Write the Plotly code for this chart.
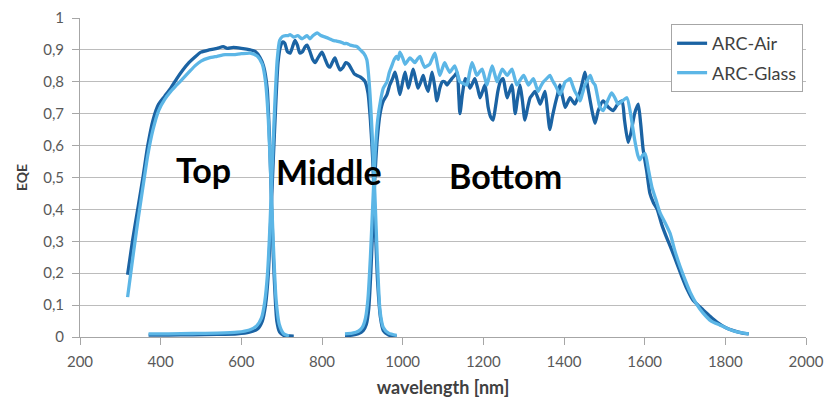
import plotly.graph_objects as go

# ---------------- data ----------------
top_air_wl = [318, 330, 343, 356, 368, 381, 395, 410, 425, 440, 455, 470, 485, 500, 520, 540, 555, 565,
              580, 600, 622, 635, 646, 655, 664, 671, 679, 688, 695, 705, 730]
top_air_eqe = [0.195, 0.30, 0.40, 0.50, 0.60, 0.68, 0.73, 0.755, 0.78, 0.81, 0.837, 0.86, 0.878, 0.893, 0.90,
               0.905, 0.91, 0.905, 0.908, 0.905, 0.90, 0.895, 0.877, 0.85, 0.78, 0.58, 0.26, 0.05, 0.015, 0.005, 0.003]

top_glass_wl = [318, 330, 343, 356, 368, 381, 395, 410, 425, 440, 455, 470, 485, 500, 520, 540, 560, 580,
                600, 622, 640, 652, 660, 667, 673, 679, 686, 694, 705, 718]
top_glass_eqe = [0.125, 0.24, 0.36, 0.47, 0.57, 0.65, 0.71, 0.745, 0.77, 0.79, 0.81, 0.83, 0.85, 0.865, 0.875,
                 0.88, 0.885, 0.885, 0.888, 0.89, 0.88, 0.855, 0.80, 0.68, 0.50, 0.30, 0.12, 0.04, 0.01, 0.003]

mid_air_wl = [370, 420, 480, 540, 590, 620, 640, 652, 660, 667, 673, 679, 685, 691, 697, 703, 708, 714, 721,
              727, 733, 739, 745, 752, 758, 763, 770, 777, 783, 790, 800, 808, 815, 820, 826, 832, 838, 845,
              852, 859, 866, 873, 880, 887, 895, 902, 907, 914, 920, 926, 932, 938, 945, 952, 965, 985]
mid_air_eqe = [0.006, 0.006, 0.007, 0.008, 0.01, 0.015, 0.025, 0.05, 0.10, 0.2, 0.37, 0.55, 0.72, 0.86, 0.91,
               0.925, 0.92, 0.895, 0.89, 0.91, 0.93, 0.915, 0.89, 0.895, 0.91, 0.915, 0.895, 0.87, 0.86, 0.875,
               0.893, 0.87, 0.85, 0.846, 0.862, 0.875, 0.855, 0.837, 0.845, 0.86, 0.855, 0.84, 0.825, 0.82,
               0.815, 0.808, 0.80, 0.765, 0.68, 0.55, 0.35, 0.17, 0.06, 0.02, 0.006, 0.003]

mid_glass_wl = [370, 420, 480, 540, 590, 620, 638, 650, 658, 665, 671, 677, 683, 689, 695, 702, 710, 716, 721,
                730, 740, 750, 757, 763, 770, 778, 788, 797, 808, 818, 827, 835, 845, 855, 862, 870, 880, 887,
                895, 903, 911, 918, 925, 931, 937, 944, 952, 965, 985]
mid_glass_eqe = [0.01, 0.01, 0.011, 0.012, 0.015, 0.022, 0.035, 0.06, 0.11, 0.2, 0.35, 0.55, 0.73, 0.87, 0.93,
                 0.942, 0.945, 0.945, 0.948, 0.94, 0.945, 0.935, 0.94, 0.945, 0.935, 0.945, 0.953, 0.945, 0.94,
                 0.935, 0.93, 0.928, 0.925, 0.92, 0.92, 0.915, 0.912, 0.91, 0.90, 0.89, 0.87, 0.78, 0.62, 0.45,
                 0.25, 0.08, 0.03, 0.012, 0.005]

bot_air_wl = [857, 875, 890, 902, 910, 916, 921, 926, 931, 937, 944, 952, 961, 968, 975, 981, 987, 993, 1000,
              1006, 1014, 1020, 1026, 1032, 1038, 1045, 1051, 1057, 1063, 1068, 1073, 1079, 1085, 1092, 1098,
              1104, 1110, 1116, 1122, 1129, 1135, 1139, 1142, 1148, 1155, 1161, 1167, 1173, 1179, 1186, 1192,
              1198, 1204, 1208, 1212, 1218, 1224, 1230, 1236, 1242, 1249, 1254, 1259, 1265, 1271, 1275, 1279,
              1285, 1291, 1297, 1303, 1310, 1316, 1322, 1328, 1335, 1341, 1347, 1353, 1359, 1365, 1371, 1378,
              1384, 1390, 1397, 1403, 1409, 1415, 1421, 1427, 1434, 1440, 1446, 1452, 1458, 1465, 1471, 1477,
              1485, 1497, 1510, 1522, 1533, 1544, 1550, 1559, 1566, 1575, 1584, 1590, 1596, 1605, 1613, 1622,
              1631, 1643, 1655, 1668, 1680, 1692, 1705, 1720, 1732, 1745, 1762, 1779, 1800, 1820, 1840, 1858]
bot_air_eqe = [0.005, 0.006, 0.01, 0.02, 0.04, 0.09, 0.2, 0.35, 0.5, 0.62, 0.7, 0.74, 0.76, 0.79, 0.81, 0.83,
               0.80, 0.76, 0.80, 0.83, 0.78, 0.81, 0.84, 0.81, 0.78, 0.80, 0.82, 0.79, 0.77, 0.80, 0.83, 0.79,
               0.74, 0.78, 0.80, 0.80, 0.79, 0.80, 0.81, 0.82, 0.83, 0.76, 0.70, 0.76, 0.81, 0.80, 0.78, 0.795,
               0.81, 0.78, 0.75, 0.77, 0.79, 0.76, 0.72, 0.69, 0.68, 0.72, 0.77, 0.80, 0.81, 0.78, 0.75, 0.77,
               0.79, 0.75, 0.70, 0.75, 0.79, 0.74, 0.68, 0.72, 0.75, 0.76, 0.77, 0.75, 0.73, 0.75, 0.77, 0.71,
               0.65, 0.69, 0.73, 0.76, 0.79, 0.75, 0.72, 0.735, 0.75, 0.74, 0.73, 0.75, 0.77, 0.80, 0.83, 0.79,
               0.74, 0.70, 0.67, 0.71, 0.74, 0.72, 0.71, 0.73, 0.74, 0.68, 0.61, 0.64, 0.70, 0.73, 0.67, 0.59,
               0.52, 0.45, 0.42, 0.40, 0.35, 0.31, 0.27, 0.23, 0.19, 0.15, 0.115, 0.10, 0.085, 0.065, 0.047,
               0.03, 0.02, 0.013, 0.01]

bot_glass_wl = [857, 875, 890, 900, 908, 914, 920, 926, 932, 938, 945, 952, 961, 967, 973, 979, 985, 989, 993,
                1000, 1006, 1012, 1018, 1024, 1030, 1036, 1043, 1049, 1055, 1061, 1067, 1074, 1080, 1086, 1092,
                1098, 1104, 1110, 1117, 1123, 1129, 1136, 1142, 1150, 1159, 1166, 1172, 1178, 1184, 1190, 1197,
                1203, 1209, 1215, 1222, 1228, 1234, 1240, 1247, 1253, 1259, 1265, 1271, 1277, 1283, 1291, 1300,
                1306, 1312, 1318, 1324, 1330, 1336, 1342, 1349, 1357, 1365, 1371, 1378, 1384, 1390, 1397, 1403,
                1409, 1415, 1421, 1427, 1434, 1440, 1446, 1452, 1458, 1465, 1471, 1477, 1483, 1489, 1497, 1508,
                1518, 1526, 1534, 1545, 1556, 1565, 1575, 1583, 1588, 1595, 1601, 1610, 1618, 1628, 1638, 1650,
                1663, 1675, 1688, 1700, 1713, 1728, 1745, 1765, 1787, 1808, 1829, 1845, 1858]
bot_glass_eqe = [0.01, 0.012, 0.018, 0.03, 0.06, 0.12, 0.25, 0.42, 0.58, 0.68, 0.74, 0.78, 0.80, 0.83, 0.85,
                 0.87, 0.88, 0.87, 0.893, 0.875, 0.855, 0.865, 0.875, 0.868, 0.86, 0.87, 0.88, 0.86, 0.845,
                 0.85, 0.855, 0.875, 0.89, 0.855, 0.82, 0.84, 0.86, 0.845, 0.83, 0.84, 0.85, 0.825, 0.80,
                 0.795, 0.79, 0.83, 0.86, 0.84, 0.82, 0.83, 0.84, 0.815, 0.79, 0.82, 0.85, 0.825, 0.80, 0.82,
                 0.84, 0.83, 0.82, 0.83, 0.84, 0.815, 0.79, 0.805, 0.82, 0.805, 0.79, 0.80, 0.81, 0.79, 0.77,
                 0.785, 0.80, 0.81, 0.82, 0.805, 0.79, 0.775, 0.76, 0.78, 0.80, 0.805, 0.81, 0.79, 0.77, 0.755,
                 0.74, 0.765, 0.79, 0.805, 0.82, 0.80, 0.79, 0.755, 0.72, 0.71, 0.74, 0.765, 0.75, 0.73, 0.74,
                 0.75, 0.70, 0.62, 0.57, 0.555, 0.57, 0.575, 0.52, 0.47, 0.43, 0.39, 0.36, 0.325, 0.27, 0.22,
                 0.18, 0.14, 0.105, 0.075, 0.05, 0.037, 0.025, 0.016, 0.012, 0.01]

series_names = ["ARC-Air", "ARC-Glass"]
cell_labels = ["Top", "Middle", "Bottom"]
cell_label_wl = [505, 817, 1254]
cell_label_eqe = [0.526, 0.52, 0.505]

x_tick_vals = [200, 400, 600, 800, 1000, 1200, 1400, 1600, 1800, 2000]
y_tick_vals = [0, 0.1, 0.2, 0.3, 0.4, 0.5, 0.6, 0.7, 0.8, 0.9, 1]
y_tick_text = ["0", "0,1", "0,2", "0,3", "0,4", "0,5", "0,6", "0,7", "0,8", "0,9", "1"]

# ---------------- figure ----------------
DARK = "#1b63a3"
LIGHT = "#5cb6e6"
FONT = "Lato, 'Open Sans', sans-serif"

fig = go.Figure()

air = [(top_air_wl, top_air_eqe), (mid_air_wl, mid_air_eqe), (bot_air_wl, bot_air_eqe)]
glass = [(top_glass_wl, top_glass_eqe), (mid_glass_wl, mid_glass_eqe), (bot_glass_wl, bot_glass_eqe)]

for name, color, curves in [(series_names[0], DARK, air), (series_names[1], LIGHT, glass)]:
    for i, (wl, eqe) in enumerate(curves):
        fig.add_trace(go.Scatter(
            x=wl, y=eqe, mode="lines", name=name, legendgroup=name,
            showlegend=(i == 0),
            line=dict(color=color, width=3.3, shape="spline", smoothing=0.6),
        ))

for lbl, xw, ye in zip(cell_labels, cell_label_wl, cell_label_eqe):
    fig.add_annotation(x=xw, y=ye, text=lbl, showarrow=False,
                       font=dict(family=FONT, size=34, color="#000000", weight="bold"),
                       xanchor="center", yanchor="middle")

# the page body adds an 8px offset; margins compensate so the plot area lands at x 80-806, y 18-337
fig.update_layout(
    width=833, height=400,
    margin=dict(l=72, r=35, t=10, b=71),
    paper_bgcolor="white", plot_bgcolor="white",
    font=dict(family=FONT, color="#595959", size=15),
    legend=dict(x=0.996, y=0.981, xanchor="right", yanchor="top",
                bordercolor="#a6a6a6", borderwidth=1, bgcolor="white",
                font=dict(size=18, color="#404040"), tracegroupgap=3,
                traceorder="grouped"),
    xaxis=dict(range=[200, 2000], tickvals=x_tick_vals, showgrid=False, zeroline=False,
               automargin=False,
               showline=True, linecolor="#a6a6a6", linewidth=1,
               ticks="outside", ticklen=7, tickcolor="#a6a6a6", ticklabelstandoff=4,
               tickfont=dict(size=15, color="#595959"),
               title=dict(text="<b>wavelength [nm]</b>", font=dict(size=18, color="#404040"), standoff=12)),
    yaxis=dict(range=[0, 1], tickvals=y_tick_vals, ticktext=y_tick_text,
               automargin=False,
               showgrid=True, gridcolor="#bcbcbc", gridwidth=1.3, zeroline=False,
               showline=True, linecolor="#a6a6a6", linewidth=1,
               ticks="outside", ticklen=7, tickcolor="#a6a6a6", ticklabelstandoff=5,
               tickfont=dict(size=15, color="#595959"),
               title=dict(text="<b>EQE</b>", font=dict(size=14, color="#404040"), standoff=12)),
)

fig.write_html("out.html")
